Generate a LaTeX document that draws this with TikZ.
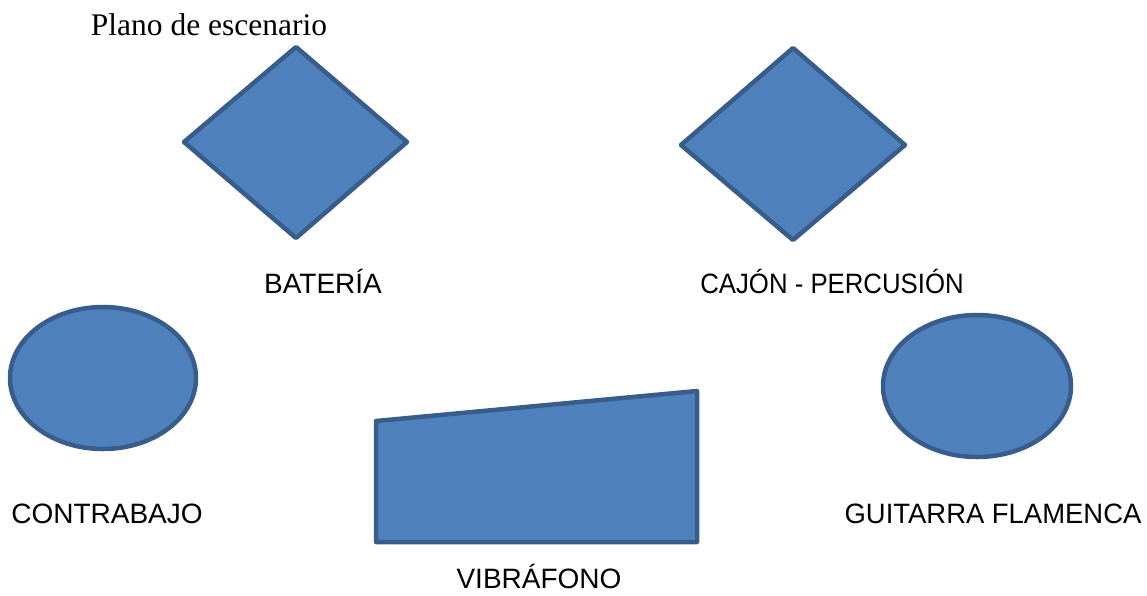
\documentclass[tikz,border=0pt]{standalone}
\usepackage{fontspec}
\setmainfont{Liberation Sans}
\newfontfamily\titlefont{Liberation Serif}
\definecolor{shapefill}{HTML}{4F81BD}
\definecolor{shapeline}{HTML}{385D8A}
\tikzset{
  stageshape/.style={fill=shapefill, draw=shapeline, line width=4.5pt, line join=round},
  stagelabel/.style={anchor=base, inner sep=0pt, font=\fontsize{28}{32}\selectfont},
}
\begin{document}
\begin{tikzpicture}[x=1pt,y=-1pt]
\useasboundingbox (0,0) rectangle (1147,595);
% shapes
\draw[stageshape] (184,142) -- (296,47) -- (407,142) -- (296,238) -- cycle;
\draw[stageshape] (681,145) -- (793,48) -- (905,145) -- (793,240) -- cycle;
\draw[stageshape] (103,378) ellipse [x radius=93, y radius=71];
\draw[stageshape] (977,386) ellipse [x radius=94, y radius=71];
\draw[stageshape] (376,421) -- (697,391) -- (697,542) -- (376,542) -- cycle;
% labels
\node[anchor=base, inner sep=0pt, font=\titlefont\fontsize{31.5}{36}\selectfont] (titulo) at (209,35) {Plano de escenario};
\node[stagelabel] (bateria) at (323,293) {BATERÍA};
\node[stagelabel, xscale=0.92] (cajon) at (832,293) {CAJÓN - PERCUSIÓN};
\node[stagelabel] (contrabajo) at (107,523) {CONTRABAJO};
\node[stagelabel, xscale=0.98] (guitarra) at (993,523) {GUITARRA FLAMENCA};
\node[stagelabel] (vibrafono) at (539,588) {VIBRÁFONO};
\end{tikzpicture}
\end{document}
